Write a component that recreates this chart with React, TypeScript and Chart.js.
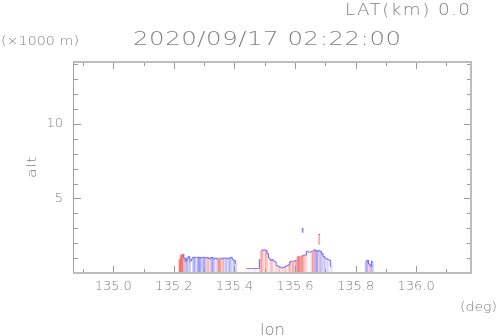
import React, { useEffect, useRef } from "react";
import { Chart, registerables } from "chart.js";

Chart.register(...registerables);

// longitude of each column (deg)
const lonCols = [
  135.22, 135.225, 135.23, 135.235, 135.24, 135.245, 135.25, 135.255, 135.26, 135.265,
  135.27, 135.275, 135.28, 135.285, 135.29, 135.295, 135.3, 135.305, 135.31, 135.315,
  135.32, 135.325, 135.33, 135.335, 135.34, 135.345, 135.35, 135.355, 135.36, 135.365,
  135.37, 135.375, 135.38, 135.385, 135.39, 135.395, 135.4, 135.405,
  135.44, 135.445, 135.45, 135.455, 135.46, 135.465, 135.47, 135.475, 135.48,
  135.485, 135.49, 135.495, 135.5, 135.505, 135.51, 135.515, 135.52, 135.525, 135.53,
  135.535, 135.54, 135.545, 135.55, 135.555, 135.56, 135.565, 135.57, 135.575, 135.58,
  135.585, 135.59, 135.595, 135.6, 135.605, 135.61, 135.615, 135.62, 135.625, 135.63,
  135.635, 135.64, 135.645, 135.65, 135.655, 135.66, 135.665, 135.67, 135.675, 135.68,
  135.685, 135.69, 135.695, 135.7, 135.705, 135.71, 135.715, 135.72,
  135.835, 135.84, 135.845, 135.85, 135.855,
];

// echo-top altitude of each column (x1000 m)
const altTop = [
  0.9, 1.2, 1.25, 1.0, 0.8, 1.0, 1.1, 0.8, 0.95, 1.05,
  1.05, 1.05, 1.05, 1.05, 1.0, 1.05, 1.05, 1.0, 1.05, 1.0,
  0.95, 1.05, 1.0, 0.95, 1.0, 0.9, 1.0, 1.0, 0.95, 1.0,
  1.0, 0.95, 1.0, 1.0, 1.05, 0.9, 0.85, 0.65,
  0.3, 0.3, 0.3, 0.3, 0.3, 0.3, 0.3, 0.3, 0.3,
  0.9, 1.5, 1.55, 1.55, 1.5, 1.3, 1.0, 0.85, 0.9, 0.8,
  0.75, 0.5, 0.45, 0.4, 0.35, 0.35, 0.4, 0.45, 0.5, 0.55,
  0.75, 0.8, 0.8, 0.8, 0.85, 1.1, 1.1, 1.15, 1.15, 1.2,
  1.2, 1.45, 1.4, 1.4, 1.45, 1.5, 1.55, 1.5, 1.45, 1.5,
  1.45, 1.3, 1.1, 1.0, 0.95, 0.9, 0.85, 0.45,
  0.75, 0.85, 0.6, 0.45, 0.8,
];

// signed value of each column (+ red, - blue)
const shade = [
  0.8, 0.9, 0.8, 0.5, -0.4, -0.6, -0.3, -0.5, 0.0, -0.4,
  -0.7, -0.2, -0.5, -0.8, -0.6, -0.3, -0.7, -0.5, 0.3, 0.5,
  0.2, -0.5, -0.7, -0.4, -0.2, 0.4, 0.7, 0.6, 0.3, 0.5,
  -0.3, -0.5, -0.2, -0.6, -0.4, -0.2, -0.5, -0.3,
  0.1, 0.0, 0.15, 0.0, 0.1, 0.0, 0.2, 0.1, 0.0,
  0.3, 0.6, 0.4, 0.2, 0.5, 0.3, 0.1, 0.3, 0.4, 0.2,
  0.1, 0.3, 0.2, 0.4, 0.1, 0.3, 0.2, 0.4, 0.1, 0.3,
  0.5, 0.2, 0.6, 0.3, 0.5, 0.7, 0.8, 0.6, 0.7, 0.5,
  0.3, 0.2, 0.1, 0.0, -0.2, 0.6, 0.5, -0.6, -0.7, 0.3,
  -0.5, -0.4, -0.3, -0.4, -0.2, -0.3, -0.1, -0.2,
  -0.5, -0.6, 0.3, 0.4, -0.5,
];

// detached echoes aloft
const floatLon = [135.625, 135.68];
const floatLow = [2.7, 1.9];
const floatHigh = [3.0, 2.6];
const floatShade = [-0.8, 0.5];

const xTickLabels = ["135.0", "135.2", "135.4", "135.6", "135.8", "136.0"];
const yTickLabels = ["5", "10"];

const titleText = "2020/09/17 02:22:00";
const latText = "LAT(km) 0.0";
const unitText = "(\u00d71000 m)";
const yTitle = "alt";
const xTitle = "lon";
const xUnit = "(deg)";

const FONT = "'DejaVu Sans'";
const TEXT_COLOR = "#808080";
const OUTLINE = "#6b6bff";

function shadeColor(v: number): string {
  const t = Math.min(1, Math.abs(v));
  const end = v >= 0 ? [236, 96, 96] : [120, 120, 245];
  const c = end.map((e) => Math.round(255 + (e - 255) * t));
  return `rgb(${c[0]},${c[1]},${c[2]})`;
}

// outline trace: break the line wherever columns are not adjacent
const outlinePts: any[] = [];
lonCols.forEach((x, i) => {
  if (i > 0 && x - lonCols[i - 1] > 0.008) outlinePts.push({ x: (x + lonCols[i - 1]) / 2, y: null });
  outlinePts.push({ x, y: altTop[i], s: shade[i] });
});

function drawWide(
  ctx: CanvasRenderingContext2D,
  text: string,
  size: number,
  x: number,
  y: number,
  width: number
) {
  ctx.save();
  ctx.font = `200 ${size}px ${FONT}`;
  (ctx as any).letterSpacing = "0px";
  ctx.textAlign = "left";
  ctx.textBaseline = "alphabetic";
  const natural = ctx.measureText(text).width;
  const stretch = Math.max(1, Math.min(1.22, width / natural));
  const sp = text.length > 1 ? (width / stretch - natural) / (text.length - 1) : 0;
  ctx.translate(x, y);
  ctx.scale(stretch, 1);
  (ctx as any).letterSpacing = `${Math.max(0, sp)}px`;
  ctx.fillText(text, 0, 0);
  ctx.restore();
}

const framePlugin = {
  id: "frame",
  afterDatasetsDraw(chart: any) {
    const { ctx, chartArea: a, scales } = chart;
    const xs = scales.x;
    const ys = scales.y;
    ctx.save();
    ctx.strokeStyle = "#9a9a9a";
    ctx.lineWidth = 1;
    ctx.beginPath();
    xs.ticks.forEach((t: any) => {
      const px = Math.round(xs.getPixelForValue(t.value)) + 0.5;
      if (px <= a.left + 1 || px >= a.right - 1) return;
      const major = xTickLabels.includes(Number(t.value).toFixed(1));
      const len = major ? 7 : 4;
      ctx.moveTo(px, a.bottom);
      ctx.lineTo(px, a.bottom - len);
      ctx.moveTo(px, a.top);
      ctx.lineTo(px, a.top + len);
    });
    ys.ticks.forEach((t: any) => {
      const py = Math.round(ys.getPixelForValue(t.value)) + 0.5;
      if (py >= a.bottom - 1 || py <= a.top + 1) return;
      const major = yTickLabels.includes(String(Math.round(t.value)));
      ctx.moveTo(a.left, py);
      ctx.lineTo(a.left + (major ? 8 : 5), py);
      ctx.moveTo(a.right, py);
      ctx.lineTo(a.right - (major ? 7 : 4), py);
    });
    ctx.stroke();

    ctx.strokeStyle = "#bdbdbd";
    ctx.lineWidth = 2;
    ctx.beginPath();
    ctx.moveTo(a.left, a.top);
    ctx.lineTo(a.right, a.top);
    ctx.lineTo(a.right, a.bottom);
    ctx.lineTo(a.left, a.bottom);
    ctx.stroke();
    ctx.strokeStyle = "#a0a0a0";
    ctx.lineWidth = 1;
    ctx.beginPath();
    ctx.moveTo(a.left + 0.5, a.top);
    ctx.lineTo(a.left + 0.5, a.bottom);
    ctx.stroke();
    ctx.restore();
  },
  afterDraw(chart: any) {
    const ctx: CanvasRenderingContext2D = chart.ctx;
    ctx.save();
    ctx.fillStyle = TEXT_COLOR;
    drawWide(ctx, unitText, 12, 1, 45, 78);
    drawWide(ctx, titleText, 20, 133, 45, 268);
    drawWide(ctx, latText, 15, 345, 15, 125);
    drawWide(ctx, xTitle, 16, 260, 335, 25);
    drawWide(ctx, xUnit, 13, 460, 311, 37);
    ctx.translate(36, 178);
    ctx.rotate(-Math.PI / 2);
    drawWide(ctx, yTitle, 13, 0, 0, 21.5);
    ctx.restore();
  },
};

export default function App() {
  const ref = useRef<HTMLCanvasElement | null>(null);

  useEffect(() => {
    if (!ref.current) return;
    const chart = new Chart(ref.current, {
      type: "bar",
      data: {
        datasets: [
          {
            type: "line",
            data: outlinePts as any,
            stepped: "middle",
            borderWidth: 1,
            pointRadius: 0,
            spanGaps: false,
            borderColor: OUTLINE,
            segment: {
              borderColor: (c: any) => {
                const s = c.p1.raw && c.p1.raw.s;
                return s !== undefined && s > 0.55 ? "rgba(0,0,0,0)" : OUTLINE;
              },
            },
            order: 0,
          } as any,
          {
            data: lonCols.map((x, i) => ({ x, y: [0, altTop[i]] })) as any,
            backgroundColor: shade.map(shadeColor),
            borderWidth: 0,
            grouped: false,
            barThickness: 2,
            order: 1,
          },
          {
            data: floatLon.map((x, i) => ({ x, y: [floatLow[i], floatHigh[i]] })) as any,
            backgroundColor: floatShade.map(shadeColor),
            borderColor: OUTLINE,
            borderWidth: { top: 1, left: 0, right: 0, bottom: 0 } as any,
            borderSkipped: false,
            grouped: false,
            barThickness: 2,
            order: 1,
          },
        ],
      },
      options: {
        responsive: false,
        animation: false,
        devicePixelRatio: 1,
        layout: { padding: { top: 62, right: 27, left: 0, bottom: 0 } },
        plugins: { legend: { display: false }, tooltip: { enabled: false }, title: { display: false } },
        scales: {
          x: {
            type: "linear",
            offset: false,
            min: 134.867,
            max: 136.181,
            grid: { display: false, drawTicks: false },
            border: { display: false },
            ticks: {
              stepSize: 0.1,
              includeBounds: false,
              autoSkip: false,
              maxRotation: 0,
              padding: 6,
              color: TEXT_COLOR,
              font: { family: "DejaVu Sans", size: 13, weight: "200" as any },
              callback: (v: any) => {
                const s = Number(v).toFixed(1);
                return xTickLabels.includes(s) ? s : "";
              },
            },
            afterFit: (s: any) => {
              s.height = 63;
            },
          },
          y: {
            type: "linear",
            min: 0,
            max: 14.16,
            grid: { display: false, drawTicks: false },
            border: { display: false },
            ticks: {
              stepSize: 1,
              includeBounds: false,
              autoSkip: false,
              padding: 10,
              color: TEXT_COLOR,
              font: { family: "DejaVu Sans", size: 13, weight: "200" as any },
              callback: (v: any) => {
                const s = String(Math.round(Number(v)));
                return yTickLabels.includes(s) ? s : "";
              },
            },
            afterFit: (s: any) => {
              s.width = 73;
            },
          },
        },
      },
      plugins: [framePlugin],
    });
    return () => chart.destroy();
  }, []);

  return (
    <div style={{ position: "absolute", left: 0, top: 0, width: 498, height: 336, background: "#fff" }}>
      <canvas ref={ref} width={498} height={336} style={{ display: "block" }} />
    </div>
  );
}
